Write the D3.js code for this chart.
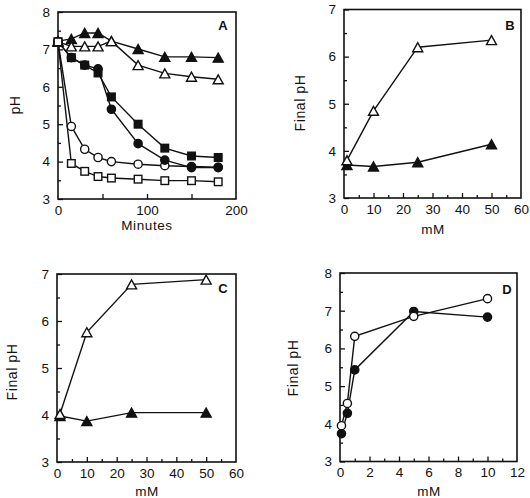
<!DOCTYPE html>
<html><head><meta charset="utf-8">
<script src="https://cdn.jsdelivr.net/npm/d3@7"></script>
<style>body{margin:0;background:#fff}svg{display:block}text{font-family:"Liberation Sans",Arial,sans-serif;fill:#111}</style>
</head><body>
<script>
// ---- Panel A data (pH vs minutes)
const minutesA = [0, 15, 30, 45, 60, 90, 120, 150, 180];
const A_filledTri = [7.22, 7.28, 7.44, 7.44, 7.22, 7.01, 6.80, 6.80, 6.78];
const A_openTri   = [7.20, 7.08, 7.08, 7.08, 7.22, 6.58, 6.36, 6.27, 6.20];
const A_filledSq  = [7.20, 6.78, 6.58, 6.37, 5.73, 5.00, 4.36, 4.15, 4.11];
const A_filledCir = [7.20, 6.78, 6.58, 6.48, 5.40, 4.48, 4.04, 3.84, 3.84];
const A_openCir   = [7.20, 4.94, 4.33, 4.11, 4.00, 3.93, 3.89, 3.87, 3.85];
const A_openSq    = [7.20, 3.95, 3.74, 3.60, 3.56, 3.53, 3.49, 3.49, 3.46];
// ---- Panel B data (final pH vs mM)
const mMB = [1, 10, 25, 50];
const B_openTri   = [3.80, 4.85, 6.20, 6.35];
const B_filledTri = [3.70, 3.67, 3.76, 4.14];
// ---- Panel C data
const mMC = [1, 10, 25, 50];
const C_openTri   = [4.02, 5.76, 6.78, 6.88];
const C_filledTri = [3.98, 3.87, 4.05, 4.05];
// ---- Panel D data
const mMD = [0.1, 0.5, 1, 5, 10];
const D_openCir   = [3.95, 4.54, 6.32, 6.85, 7.32];
const D_filledCir = [3.74, 4.28, 5.43, 6.98, 6.83];
// ---- tick labels
const ticksA_x = [0, 100, 200], ticksA_xMarks = [50, 100, 150];
const ticksBC_x = [0, 10, 20, 30, 40, 50, 60];
const ticksD_x = [0, 2, 4, 6, 8, 10, 12];
const ticksY_A = [3, 4, 5, 6, 7, 8];
const ticksY_BC = [3, 4, 5, 6, 7];

const W = 530, H = 498;
const svg = d3.select("body").append("svg").attr("width", W).attr("height", H);

function marker(g, shape, filled, x, y) {
  const fill = filled ? "#111" : "#fff";
  if (shape === "tri") {
    const w = 10, h = 9;
    g.append("path").attr("d", `M${x},${y - h/2}L${x - w/2},${y + h/2}L${x + w/2},${y + h/2}Z`)
      .attr("fill", fill).attr("stroke", "#111").attr("stroke-width", 1.4).attr("stroke-linejoin", "miter");
  } else if (shape === "sq") {
    const s = 7.6;
    g.append("rect").attr("x", x - s/2).attr("y", y - s/2).attr("width", s).attr("height", s)
      .attr("fill", fill).attr("stroke", "#111").attr("stroke-width", 1.4);
  } else {
    g.append("circle").attr("cx", x).attr("cy", y).attr("r", 4.1)
      .attr("fill", fill).attr("stroke", "#111").attr("stroke-width", 1.4);
  }
}

function panel(cfg) {
  const x = d3.scaleLinear().domain(cfg.xd).range([cfg.x0, cfg.x1]);
  const y = d3.scaleLinear().domain(cfg.yd).range([cfg.y1, cfg.y0]);
  const g = svg.append("g");
  const yMinor = d3.range(cfg.yd[0] + 0.5, cfg.yd[1], 1);
  const yAxis = d3.axisLeft(y).tickValues(cfg.yTicks).tickSize(-5).tickSizeOuter(0).tickPadding(10).tickFormat(d3.format("d"));
  const ga = g.append("g").attr("transform", `translate(${cfg.x0},0)`).call(yAxis);
  ga.select(".domain").remove();
  g.append("g").attr("transform", `translate(${cfg.x0},0)`)
    .call(d3.axisLeft(y).tickValues(yMinor).tickSize(-3).tickFormat(""))
    .select(".domain").remove();
  const xAxis = d3.axisBottom(x).tickValues(cfg.xLabels).tickSize(0).tickPadding(6).tickFormat(d3.format("d"));
  const gx = g.append("g").attr("transform", `translate(0,${cfg.y1})`).call(xAxis);
  gx.select(".domain").remove();
  g.append("g").attr("transform", `translate(0,${cfg.y1})`)
    .call(d3.axisBottom(x).tickValues(cfg.xMajor).tickSize(-5).tickFormat(""))
    .select(".domain").remove();
  if (cfg.xMinor) g.append("g").attr("transform", `translate(0,${cfg.y1})`)
    .call(d3.axisBottom(x).tickValues(cfg.xMinor).tickSize(-3).tickFormat(""))
    .select(".domain").remove();
  g.selectAll(".tick line").attr("stroke", "#111").attr("stroke-width", 1.3);
  g.selectAll(".tick text").style("font-size", "13.5px").attr("fill", "#111").style("font-family", '"Liberation Sans",Arial,sans-serif');
  ga.selectAll(".tick text").attr("dx", "0.15em");
  gx.selectAll(".tick text").attr("dy", "0.72em");
  g.append("rect").attr("x", cfg.x0).attr("y", cfg.y0).attr("width", cfg.x1 - cfg.x0).attr("height", cfg.y1 - cfg.y0)
    .attr("fill", "none").attr("stroke", "#111").attr("stroke-width", 1.6);
  const line = d3.line().x(d => x(d[0])).y(d => y(d[1]));
  cfg.series.forEach(s => {
    const pts = cfg.xs.map((v, i) => [v, s.vals[i]]);
    g.append("path").attr("d", line(pts)).attr("fill", "none").attr("stroke", "#111").attr("stroke-width", 1.4);
  });
  cfg.series.forEach(s => {
    cfg.xs.forEach((v, i) => marker(g, s.shape, s.filled, x(v), y(s.vals[i])));
  });
  g.append("text").attr("x", cfg.letter[0]).attr("y", cfg.letter[1]).attr("text-anchor", "middle")
    .attr("dominant-baseline", "central").style("font-size", "13px").style("font-weight", "bold").text(cfg.letterText);
  g.append("text").attr("transform", `translate(${cfg.ylab[0]},${cfg.ylab[1]}) rotate(-90)`)
    .attr("text-anchor", "middle").attr("dominant-baseline", "central").style("font-size", "14px")
    .style("letter-spacing", "0.6px").text(cfg.ylabText);
  g.append("text").attr("x", cfg.xlab[0]).attr("y", cfg.xlab[1]).attr("text-anchor", "middle")
    .style("font-size", "13.5px").style("letter-spacing", "0.6px").text(cfg.xlabText);
}

panel({x0: 58, x1: 236, y0: 12, y1: 199, xd: [0, 200], yd: [3, 8],
  xLabels: ticksA_x, xMajor: ticksA_xMarks, xMinor: null, yTicks: ticksY_A,
  xs: minutesA,
  series: [
    {vals: A_filledTri, shape: "tri", filled: true},
    {vals: A_openTri, shape: "tri", filled: false},
    {vals: A_filledSq, shape: "sq", filled: true},
    {vals: A_openCir, shape: "cir", filled: false},
    {vals: A_filledCir, shape: "cir", filled: true},
    {vals: A_openSq, shape: "sq", filled: false}],
  letter: [223, 25], letterText: "A", ylab: [15, 105], ylabText: "pH", xlab: [147, 230], xlabText: "Minutes"});

panel({x0: 344, x1: 521, y0: 9.5, y1: 198, xd: [0, 60], yd: [3, 7],
  xLabels: ticksBC_x, xMajor: d3.range(10, 60, 10), xMinor: d3.range(5, 60, 10), yTicks: ticksY_BC,
  xs: mMB,
  series: [
    {vals: B_filledTri, shape: "tri", filled: true},
    {vals: B_openTri, shape: "tri", filled: false}],
  letter: [510, 25], letterText: "B", ylab: [300, 103], ylabText: "Final pH", xlab: [433, 234], xlabText: "mM"});

panel({x0: 57, x1: 236, y0: 274, y1: 462, xd: [0, 60], yd: [3, 7],
  xLabels: ticksBC_x, xMajor: d3.range(10, 60, 10), xMinor: d3.range(5, 60, 10), yTicks: ticksY_BC,
  xs: mMC,
  series: [
    {vals: C_filledTri, shape: "tri", filled: true},
    {vals: C_openTri, shape: "tri", filled: false}],
  letter: [223, 288], letterText: "C", ylab: [12, 372], ylabText: "Final pH", xlab: [147, 496], xlabText: "mM"});

panel({x0: 340, x1: 517, y0: 273, y1: 461.5, xd: [0, 12], yd: [3, 8],
  xLabels: ticksD_x, xMajor: d3.range(2, 12, 2), xMinor: d3.range(1, 12, 2), yTicks: ticksY_A,
  xs: mMD,
  series: [
    {vals: D_filledCir, shape: "cir", filled: true},
    {vals: D_openCir, shape: "cir", filled: false}],
  letter: [507, 289], letterText: "D", ylab: [293, 368], ylabText: "Final pH", xlab: [429, 496], xlabText: "mM"});
</script>
</body></html>
